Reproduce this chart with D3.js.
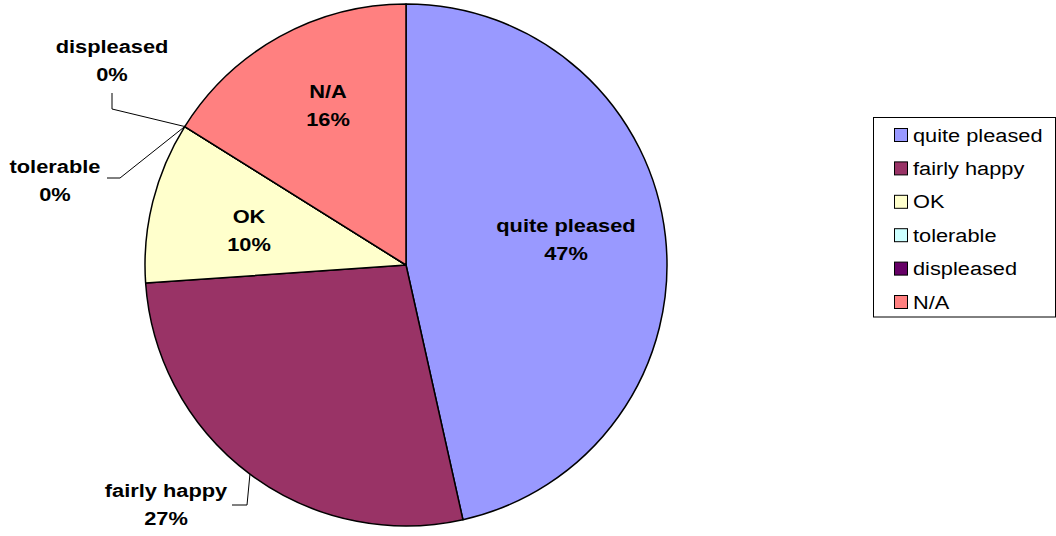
<!DOCTYPE html>
<html><head><meta charset="utf-8">
<script src="https://cdn.jsdelivr.net/npm/d3@7"></script>
<style>body{margin:0;background:#fff}svg{display:block}text{font-family:"Liberation Sans",Arial,sans-serif}</style>
</head><body>
<svg id="c" width="1056" height="536"></svg>
<script>
const categories = ["quite pleased","fairly happy","OK","tolerable","displeased","N/A"];
const values = [465, 274, 100, 0, 0, 161];
const colors = ["#9999FF","#993366","#FFFFCC","#CCFFFF","#660066","#FF8080"];

const svg = d3.select("#c");
const cx = 406, cy = 265, R = 261;
const total = d3.sum(values);
const data = categories.map((c,i)=>({name:c, value:values[i], color:colors[i]}));
const pie = d3.pie().value(d=>d.value).sort(null);
const arcs = pie(data);
const arc = d3.arc().innerRadius(0).outerRadius(R);
const g = svg.append("g").attr("transform",`translate(${cx},${cy})`);
g.selectAll("path").data(arcs).join("path")
  .attr("d",arc).attr("fill",d=>d.data.color)
  .attr("stroke","#000").attr("stroke-width",1.5).attr("stroke-linejoin","round");

const pct = v => Math.round(v*100/total)+"%";
// label layout (text centre x, first baseline y) and leader polylines
const layout = {
  "quite pleased":{x:566,y:232},
  "fairly happy":{x:166,y:497, leader:[[247,505],[232,505]]},
  "OK":{x:249,y:223},
  "tolerable":{x:55,y:173, leader:[[120,178],[107,178]]},
  "displeased":{x:112,y:53, leader:[[112,109],[112,93]]},
  "N/A":{x:328,y:98}
};
const pt = a => [cx + R*Math.sin(a), cy - R*Math.cos(a)];
arcs.forEach(a=>{
  const L = layout[a.data.name];
  if (L.leader){
    const mid = (a.startAngle+a.endAngle)/2;
    const p0 = pt(mid);
    svg.append("path").attr("d", d3.line()([p0, ...L.leader]))
      .attr("fill","none").attr("stroke","#000").attr("stroke-width",1);
  }
  [a.data.name, pct(a.data.value)].forEach((t,k)=>{
    svg.append("text").attr("transform",`translate(${L.x},${L.y+k*27.5}) scale(1.18,1)`)
      .attr("text-anchor","middle").attr("font-weight","bold").attr("font-size",18.5)
      .attr("fill","#000").text(t);
  });
});

// legend
const lg = svg.append("g");
lg.append("rect").attr("x",873.5).attr("y",117.5).attr("width",182).attr("height",199.5)
  .attr("fill","#fff").attr("stroke","#000").attr("stroke-width",1);
data.forEach((d,i)=>{
  const yc = 135 + i*33.4;
  lg.append("rect").attr("x",894.5).attr("y",yc-6.5).attr("width",13).attr("height",13)
    .attr("fill",d.color).attr("stroke","#000").attr("stroke-width",1);
  lg.append("text").attr("transform",`translate(913,${yc+6.5}) scale(1.21,1)`)
    .attr("font-size",18).attr("fill","#000").text(d.name);
});
</script>
</body></html>
